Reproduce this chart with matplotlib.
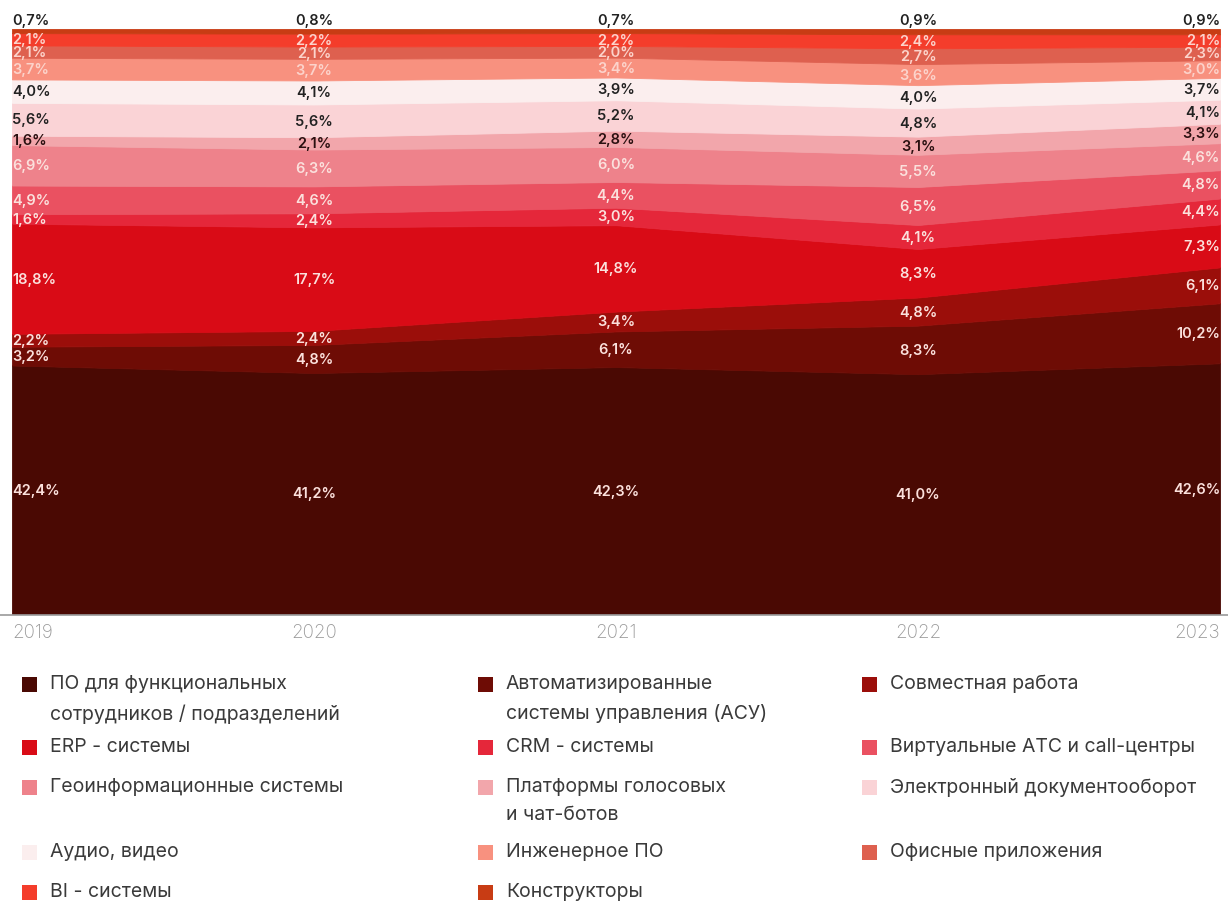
import numpy as np
import matplotlib.pyplot as plt
from matplotlib.patches import Rectangle
from matplotlib.lines import Line2D

plt.rcParams['font.family'] = ['Inter', 'DejaVu Sans']

years = ['2019', '2020', '2021', '2022', '2023']

# series, bottom to top
categories = [
    'ПО для функциональных\nсотрудников / подразделений',
    'Автоматизированные\nсистемы управления (АСУ)',
    'Совместная работа',
    'ERP - системы',
    'CRM - системы',
    'Виртуальные АТС и call-центры',
    'Геоинформационные системы',
    'Платформы голосовых\nи чат-ботов',
    'Электронный документооборот',
    'Аудио, видео',
    'Инженерное ПО',
    'Офисные приложения',
    'BI - системы',
    'Конструкторы',
]
po = [42.4, 41.2, 42.3, 41.0, 42.6]
asu = [3.2, 4.8, 6.1, 8.3, 10.2]
collab = [2.2, 2.4, 3.4, 4.8, 6.1]
erp = [18.8, 17.7, 14.8, 8.3, 7.3]
crm = [1.6, 2.4, 3.0, 4.1, 4.4]
vats = [4.9, 4.6, 4.4, 6.5, 4.8]
geo = [6.9, 6.3, 6.0, 5.5, 4.6]
bots = [1.6, 2.1, 2.8, 3.1, 3.3]
edo = [5.6, 5.6, 5.2, 4.8, 4.1]
av = [4.0, 4.1, 3.9, 4.0, 3.7]
eng = [3.7, 3.7, 3.4, 3.6, 3.0]
office = [2.1, 2.1, 2.0, 2.7, 2.3]
bi = [2.1, 2.2, 2.2, 2.4, 2.1]
constr = [0.7, 0.8, 0.7, 0.9, 0.9]

series = [po, asu, collab, erp, crm, vats, geo, bots, edo, av, eng, office, bi, constr]
colors = ['#4a0903', '#6e0c05', '#9b0e0a', '#d90b16', '#e5273a', '#ea5161',
          '#ee828b', '#f2a6ab', '#fad3d6', '#fbeeee', '#f8917f', '#de604f',
          '#f43d2b', '#c83c14']
label_colors = ['#fbe0dc'] * 7 + ['#2a1010', '#222222', '#222222',
                                  '#fcd3cb', '#fcd3cb', '#fcd3cb', '#222222']

vals = np.array(series, dtype=float)
shares = vals / vals.sum(axis=0) * 100
x = np.arange(len(years))

fig = plt.figure(figsize=(12.28, 9.03), dpi=100)
ax = fig.add_axes([12 / 1228, 1 - 615 / 903, 1208 / 1228, 585 / 903])
polys = ax.stackplot(x, shares, colors=colors)
for p, c in zip(polys, colors):
    p.set_edgecolor(c)
    p.set_linewidth(0.6)
ax.set_xlim(0, len(years) - 1)
ax.set_ylim(0, 100)
ax.axis('off')

cum = np.cumsum(shares, axis=0)
for i in range(len(series)):
    for j in range(len(years)):
        txt = f'{vals[i, j]:.1f}%'.replace('.', ',')
        ha = 'left' if j == 0 else ('right' if j == len(years) - 1 else 'center')
        if i == len(series) - 1:
            y = 101.5
        else:
            y = cum[i, j] - shares[i, j] / 2
        ax.text(x[j], y, txt, ha=ha, va='center', fontsize=10.5, fontweight='semibold',
                color=label_colors[i], clip_on=False)

# bottom axis line and year labels
fig.add_artist(Line2D([0, 1], [1 - 616 / 903] * 2, color='#9a9a9a', lw=1.2))
for j, yr in enumerate(years):
    ha = 'left' if j == 0 else ('right' if j == len(years) - 1 else 'center')
    ax.text(x[j], -3.0, yr, ha=ha, va='center', fontsize=13.5, color='#999999',
            fontweight='light', clip_on=False)

# legend, three columns
col_x = [22, 478, 862]
row_y = [685, 748, 788, 853, 893]
for k, (name, c) in enumerate(zip(categories, colors)):
    cx = col_x[k % 3]
    ry = row_y[k // 3]
    fig.add_artist(Rectangle((cx / 1228, 1 - (ry + 8) / 903), 15 / 1228, 15 / 903,
                             transform=fig.transFigure, color=c, lw=0))
    fig.text((cx + 28) / 1228, 1 - (ry - 10) / 903, name, ha='left', va='top',
             fontsize=14, color='#3a3a3a', linespacing=1.75)

fig.savefig('out.png', dpi=100)
